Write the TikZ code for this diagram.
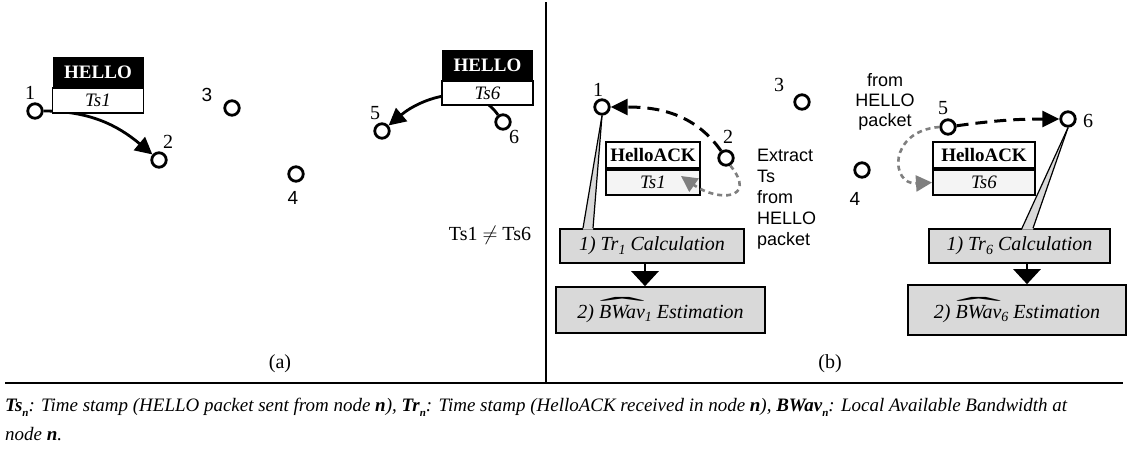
\documentclass[tikz,border=0pt]{standalone}
\usepackage{fontspec}
\setmainfont{Liberation Serif}
\newfontfamily\sansfam{Liberation Sans}
\usepackage{graphicx}
\usetikzlibrary{arrows.meta,calc}

\definecolor{boxgray}{HTML}{D9D9D9}
\definecolor{pale}{HTML}{F4F4F4}
\definecolor{dotgray}{HTML}{7F7F7F}

\newcommand\fsz[1]{\fontsize{#1}{#1}\selectfont}
\newcommand\lowsub[1]{\raisebox{-0.35ex}{\fsz{14}#1}}
\newcommand\nsub{\raisebox{-0.6ex}{\fsz{11}\bfseries n}}
% a circumflex stretched over a whole word
\newsavebox\hatbox
\newsavebox\caretbox
\newdimen\hatw
\newdimen\caretw
\newcommand\widehatword[1]{\sbox\hatbox{#1}\sbox\caretbox{\upshape ˆ}%
  \hatw=\wd\hatbox \caretw=\wd\caretbox
  \pgfmathsetmacro\hatsx{\hatw/\caretw}%
  \makebox[0pt][l]{\raisebox{3pt}{\scalebox{\hatsx}[1.3]{\upshape ˆ}}}\usebox\hatbox}
\newsavebox\noteline
\newdimen\notewd

\begin{document}
\sbox\noteline{\fsz{19}\itshape \textbf{Ts}\nsub: Time stamp (HELLO packet sent from node \textbf{n}), \textbf{Tr}\nsub: Time stamp (HelloACK received in node \textbf{n}), \textbf{BWav}\nsub: Local Available Bandwidth at}%
\notewd=\wd\noteline
\pgfmathsetmacro\notescale{1062/\notewd}%
\begin{tikzpicture}[x=1pt,y=-1pt,
  station/.style={circle,draw,line width=2.8pt,minimum size=14.5pt,inner sep=0pt},
  num/.style={inner sep=0pt,font=\fsz{20}},
  snum/.style={inner sep=0pt,font=\sansfam\fsz{19}},
  hdrblack/.style={fill=black,text=white,minimum width=91pt,minimum height=31pt,inner sep=0pt,font=\bfseries\fsz{19}},
  field/.style={draw,line width=1.6pt,fill=white,minimum width=91pt,minimum height=25pt,inner sep=0pt,font=\itshape\fsz{19}},
  ackhdr/.style={draw,line width=2pt,fill=white,minimum height=26pt,inner sep=0pt,font=\bfseries\fsz{19}},
  ackfield/.style={draw,line width=2pt,fill=pale,minimum height=25pt,inner sep=0pt,font=\itshape\fsz{19}},
  calcbox/.style={draw,line width=1.6pt,fill=boxgray,inner sep=0pt,font=\itshape\fsz{20}},
  send/.style={line width=2.8pt,-{Triangle[length=17pt,width=17pt]}},
  reply/.style={line width=3pt,dash pattern=on 12pt off 7pt,-{Triangle[length=17pt,width=16pt]}},
  extract/.style={line width=2.6pt,dotgray,dash pattern=on 5pt off 4pt,-{Triangle[length=16pt,width=16pt]}},
  nextstep/.style={line width=2.6pt,-{Triangle[length=15pt,width=27pt]}},
  callout/.style={fill=boxgray,draw=none},
  note/.style={font=\sansfam\fontsize{18}{21}\selectfont,inner sep=0pt},
  panel/.style={inner sep=0pt,font=\fsz{20}}
]
\useasboundingbox (0,0) rectangle (1128,450);

% frame lines
\draw[line width=1.2pt] (546,2) -- (546,383);
\draw[line width=1.5pt] (5,383) -- (1123,383);

% ---------------- (a) HELLO broadcast ----------------
\node[station] (a1) at (35,111) {};
\node[station] (a2) at (159,160) {};
\node[station] (a3) at (232,108) {};
\node[station] (a4) at (296,174) {};
\node[station] (a5) at (382,131) {};
\node[station] (a6) at (503,122) {};
\node[num]  (la1) at (30,93) {1};
\node[num]  (la2) at (168,142) {2};
\node[snum] (la3) at (207,95) {3};
\node[snum] (la4) at (293,198) {4};
\node[num]  (la5) at (375,113) {5};
\node[num]  (la6) at (514,137) {6};

\draw[send] (a1) to[out=0,in=140] (a2);
\draw[send] (a6) to[out=125,in=40] (a5);

\node[hdrblack] (helloL) at (98,72.5) {HELLO};
\node[field] (tsL) at (98,100.5) {Ts1};
\node[hdrblack] (helloR) at (487.5,65.5) {HELLO};
\node[field,minimum height=24pt] (tsR) at (487.5,93) {Ts6};

\node[inner sep=0pt,font=\fsz{20}] (neq) at (490,235) {Ts1 \(\neq\) Ts6};
\node[panel] (capa) at (280,364) {(a)};

% ---------------- (b) HelloACK reply ----------------
\node[station] (b1) at (602,107) {};
\node[station] (b2) at (726,158) {};
\node[station] (b3) at (802,102) {};
\node[station] (b4) at (862,170) {};
\node[station] (b5) at (948,127) {};
\node[station] (b6) at (1068,119) {};
\node[num]  (lb1) at (598,90) {1};
\node[num]  (lb2) at (728,137) {2};
\node[num]  (lb3) at (779,85) {3};
\node[snum] (lb4) at (855,199) {4};
\node[num]  (lb5) at (943,108) {5};
\node[num]  (lb6) at (1088,121) {6};

% processing boxes
\node[calcbox,minimum width=184pt,minimum height=34pt] (c1L) at (652,246) {1) Tr\lowsub{1} Calculation};
\node[calcbox,minimum width=209pt,minimum height=46pt] (c2L) at (660.5,310) {2) \widehatword{BWav}\lowsub{1} Estimation};
\node[calcbox,minimum width=181pt,minimum height=34pt] (c1R) at (1019.5,246) {1) Tr\lowsub{6} Calculation};
\node[calcbox,minimum width=218pt,minimum height=50pt] (c2R) at (1017,310) {2) \widehatword{BWav}\lowsub{6} Estimation};

\coordinate (axL) at (645,0);
\coordinate (axR) at (1027,0);
\draw[nextstep] (c1L.south -| axL) -- (c2L.north -| axL);
\draw[nextstep] (c1R.south -| axR) -- (c2R.north -| axR);

% callout wedges from the receiving nodes
\coordinate (wL1) at (583,0);
\coordinate (wL2) at (593,0);
\coordinate (wR1) at (1022,0);
\coordinate (wR2) at (1033,0);
\fill[callout] (b1.south) -- ($(c1L.north -| wL1)+(0,1.5)$) -- ($(c1L.north -| wL2)+(0,1.5)$) -- cycle;
\draw[line width=1.2pt] (b1.south) -- (c1L.north -| wL1);
\draw[line width=1.2pt] (b1.south) -- (c1L.north -| wL2);
\fill[callout] (b6.south) -- ($(c1R.north -| wR1)+(0,1.5)$) -- ($(c1R.north -| wR2)+(0,1.5)$) -- cycle;
\draw[line width=1.2pt] (b6.south) -- (c1R.north -| wR1);
\draw[line width=1.2pt] (b6.south) -- (c1R.north -| wR2);

% HelloACK packets
\node[ackhdr,minimum width=94pt] (ackL) at (653,154.5) {HelloACK};
\node[ackfield,minimum width=94pt,anchor=north] (ackLts) at (ackL.south) {Ts1};
\node[ackhdr,minimum width=102pt] (ackR) at (984,155) {HelloACK};
\node[ackfield,minimum width=102pt,anchor=north] (ackRts) at (ackR.south) {Ts6};

% replies
\draw[reply] (b2) to[out=125,in=0] (b1);
\draw[reply] (b5) to[out=8,in=180] (b6);

% time stamp copied from the HELLO packet
\coordinate (tipL) at (681,176);
\draw[extract] (b2.-60) .. controls (758,200) and (718,202) .. (tipL);
\draw[extract] (b5.west) .. controls (888,131) and (890,185) .. (ackRts.west);

\node[note,align=left,anchor=north west] (noteL) at (757,148.5) {Extract\\Ts\\from\\HELLO\\packet};
\node[note,align=center,anchor=north,font=\sansfam\fontsize{18}{20}\selectfont] (noteR) at (885,73.5) {from\\HELLO\\packet};

\node[panel] (capb) at (830,364) {(b)};

% ---------------- legend ----------------
\node[anchor=base west,inner sep=0pt] (legend1) at (5,411) {\scalebox{\notescale}[1]{\usebox\noteline}};
\node[anchor=base west,inner sep=0pt] (legend2) at (5,440) {\scalebox{\notescale}[1]{\fsz{19}\itshape node \textbf{n}.}};
\end{tikzpicture}
\end{document}
